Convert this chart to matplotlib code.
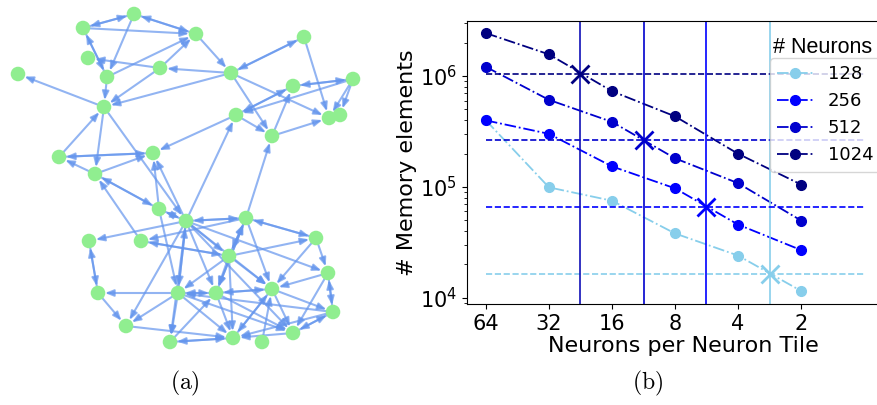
#!/usr/bin/python
#coding: utf8

##
## => (a) neuron graph + (b) memory elements per neuron tile
##

import matplotlib
matplotlib.use("Agg")
import matplotlib.pyplot as plt
from matplotlib.patches import FancyArrowPatch
from matplotlib.ticker import NullLocator


## graph layout
node_x = [134, 83, 196, 304, 88, 160, 231, 107, 18, 353, 293, 104, 329, 340, 236,
          272, 153, 59, 95, 159, 186, 246, 89, 141, 316, 229, 328, 98, 178, 216,
          272, 333, 126, 293, 233, 262, 170]
node_y = [14, 28, 34, 37, 58, 68, 73, 77, 74, 79, 86, 107, 118, 115, 115,
          136, 153, 157, 174, 209, 221, 218, 241, 241, 238, 256, 273, 293, 293, 293,
          289, 312, 326, 333, 338, 342, 342]

## directed edges (src, dst)
edges = [(0, 1), (1, 0), (2, 0), (0, 2), (1, 2), (0, 7), (1, 7), (7, 1), (5, 4),
         (7, 2), (5, 2), (6, 5), (6, 11), (5, 11), (11, 8), (7, 11), (2, 6), (6, 15),
         (3, 6), (6, 3), (3, 12), (9, 10), (10, 9), (9, 12), (9, 13), (9, 14),
         (10, 14), (14, 10), (15, 10), (6, 12), (14, 15), (15, 12), (14, 16),
         (20, 14), (21, 15), (17, 11), (11, 18), (11, 20), (17, 16), (16, 17),
         (18, 17), (18, 16), (18, 19), (19, 18), (23, 18), (19, 16), (20, 16),
         (19, 20), (20, 19), (19, 28), (20, 21), (21, 20), (20, 22), (21, 23),
         (23, 25), (25, 23), (21, 25), (25, 21), (20, 25), (20, 28), (28, 20),
         (20, 32), (20, 36), (20, 29), (20, 30), (20, 33), (20, 26), (21, 24),
         (24, 21), (25, 24), (21, 29), (29, 21), (21, 30), (25, 28), (25, 29),
         (25, 34), (25, 30), (24, 30), (24, 26), (26, 30), (26, 31), (31, 26),
         (26, 33), (30, 31), (30, 29), (29, 30), (29, 28), (28, 29), (28, 27),
         (27, 22), (22, 27), (27, 32), (28, 36), (28, 32), (32, 34), (36, 34),
         (34, 36), (36, 29), (28, 34), (28, 33), (31, 28), (29, 34), (34, 30),
         (30, 34), (30, 33), (31, 33), (33, 31), (31, 34), (35, 30), (33, 34),
         (29, 33)]

## memory elements
neurons_per_tile = [64, 32, 16, 8, 4, 2]
mem_128 = [3.98e5, 9.9e4, 7.5e4, 3.8e4, 2.4e4, 1.15e4]
mem_256 = [3.98e5, 3.01e5, 1.53e5, 9.7e4, 4.57e4, 2.69e4]
mem_512 = [1.21e6, 6.1e5, 3.86e5, 1.81e5, 1.08e5, 4.97e4]
mem_1024 = [2.44e6, 1.57e6, 7.3e5, 4.33e5, 1.99e5, 1.05e5]
n_neurons = ["128", "256", "512", "1024"]
colors = ["skyblue", "blue", "mediumblue", "navy"]
limit_colors = ["skyblue", "blue", "mediumblue", "#1010b8"]

## limits (crosses)
limit_mem = [16384, 65536, 262144, 1048576]
limit_tile = [2.83, 5.66, 11.31, 22.63]


fig = plt.figure(figsize=(8.77, 4.05), dpi=100)

##-----------##
## (a) graph ##################################################################
##-----------##
ax1 = fig.add_axes([0, 50 / 405., 370 / 877., 355 / 405.])
ax1.set_xlim(0, 370)
ax1.set_ylim(355, 0)
ax1.axis("off")

for src, dst in edges:
    arrow = FancyArrowPatch((node_x[src], node_y[src]), (node_x[dst], node_y[dst]),
                            arrowstyle="-|>,head_length=0.5,head_width=0.2",
                            mutation_scale=10, color="cornflowerblue", alpha=0.7,
                            lw=1.5, shrinkA=4, shrinkB=5)
    ax1.add_patch(arrow)
ax1.scatter(node_x, node_y, s=110, color="lightgreen", zorder=3, edgecolors="none")

##------------##
## (b) memory #################################################################
##------------##
ax2 = fig.add_axes([467 / 877., 101 / 405., 433 / 877., 283.3 / 405.])
ax2.set_xscale("log", base=2)
ax2.set_yscale("log")

series = [mem_128, mem_256, mem_512, mem_1024]
for values, name, c in zip(series, n_neurons, colors):
    ax2.plot(neurons_per_tile, values, "-.", marker="o", color=c, lw=1.3, ms=7, label=name)

for tile, mem, c, lc in zip(limit_tile, limit_mem, colors, limit_colors):
    ax2.hlines(mem, 64, 1, colors=c, linestyles="--", lw=1.2)
    ax2.axvline(tile, color=lc, lw=1.2)
    ax2.plot(tile, mem, "x", color=c, ms=13, mew=2)

ax2.set_xlim(78.8, 0.674)
ax2.set_ylim(8.77e3, 3.16e6)
ax2.set_xticks(neurons_per_tile)
ax2.set_xticklabels([str(v) for v in neurons_per_tile])
ax2.xaxis.set_minor_locator(NullLocator())
ax2.tick_params(labelsize=15)
ax2.set_xlabel("Neurons per Neuron Tile", fontsize=16, labelpad=2)
ax2.set_ylabel("# Memory elements", fontsize=16, labelpad=2)

ax2.legend(loc="upper left", bbox_to_anchor=(770 / 877., 1 - 58 / 405.),
           bbox_transform=fig.transFigure, borderaxespad=0, fontsize=13,
           framealpha=0.8)
fig.text(773 / 877., 1 - 53 / 405., "# Neurons", fontsize=15.5,
         family=["Liberation Sans", "DejaVu Sans"], va="baseline")

## sub captions
fig.text(185 / 877., 1 - 383 / 405., r"$\mathrm{(a)}$", ha="center", va="center",
         fontsize=17, math_fontfamily="cm")
fig.text(648 / 877., 1 - 383 / 405., r"$\mathrm{(b)}$", ha="center", va="center",
         fontsize=17, math_fontfamily="cm")

fig.savefig("out.png", dpi=100)
plt.close()
